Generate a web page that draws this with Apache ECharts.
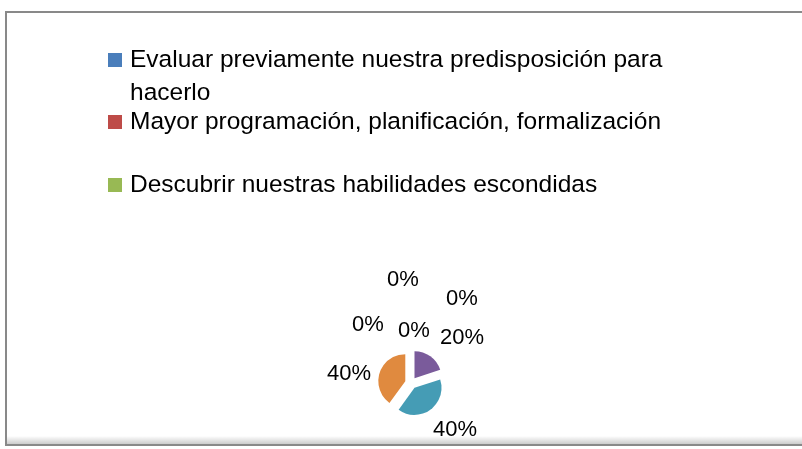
<!DOCTYPE html>
<html>
<head>
<meta charset="utf-8">
<script src="https://cdn.jsdelivr.net/npm/echarts@6/dist/echarts.min.js"></script>
<style>
  html, body { margin: 0; padding: 0; background: #fff; }
  #chart { width: 802px; height: 449px; }
</style>
</head>
<body>
<div id="chart"></div>
<script>
// categories of the pie (only the first three are listed in the legend)
var categories = [
  'Evaluar previamente nuestra predisposición para hacerlo',
  'Mayor programación, planificación, formalización',
  'Descubrir nuestras habilidades escondidas',
  'Categoría 4',
  'Categoría 5',
  'Categoría 6',
  'Categoría 7'
];
// share of answers, percent
var values = [0, 0, 0, 20, 40, 40, 0];
var legendNames = categories.slice(0, 3);

var colors = ['#4a7ebb', '#be4b48', '#98b954', '#7a5b9b', '#459cb5', '#e08a3f', '#2c4d75'];

var myChart = echarts.init(document.getElementById('chart'));

var pieData = [];
for (var i = 0; i < categories.length; i++) {
  pieData.push({ name: categories[i], value: values[i], selected: true });
}

var font = '"Liberation Sans", Arial, sans-serif';
var explode = 6;

function legendAt(name, top) {
  return {
    data: [name],
    orient: 'vertical',
    left: 108,
    top: top,
    padding: 0,
    icon: 'rect',
    itemWidth: 14,
    itemHeight: 14,
    selectedMode: false,
    formatter: function (n) {
      if (n === categories[0]) {
        // blank first line keeps the icon beside the first text line
        return '\n{t|Evaluar previamente nuestra predisposición para}\n{t|hacerlo}';
      }
      return '{t|' + n + '}';
    },
    textStyle: {
      fontFamily: font,
      fontSize: 24.5,
      lineHeight: 33,
      color: '#000',
      rich: {
        t: { fontFamily: font, fontSize: 24.5, lineHeight: 33, color: '#000', padding: [0, 0, 0, 3] }
      }
    }
  };
}

// where the data labels sit (text centres), by data index, Excel style
var labelSpots = [[403, 278], [462, 297], [368, 323], [462, 336], [455, 428], [349, 372], [414, 329]];

// mid angle of a slice, clockwise from 12 o'clock
function midAngle(idx) {
  var total = 0, before = 0;
  for (var k = 0; k < values.length; k++) {
    total += values[k];
    if (k < idx) before += values[k];
  }
  return (before + values[idx] / 2) / total * Math.PI * 2;
}

var option = {
  backgroundColor: '#fff',
  animation: false,
  color: colors,
  graphic: [{
    type: 'rect',
    z: -11,
    shape: { x: 7, y: 436, width: 800, height: 8 },
    style: {
      fill: new echarts.graphic.LinearGradient(0, 0, 0, 1, [
        { offset: 0, color: 'rgba(0,0,0,0)' },
        { offset: 1, color: 'rgba(0,0,0,0.2)' }
      ])
    }
  }, {
    type: 'rect',
    z: -10,
    shape: { x: 6, y: 12, width: 800, height: 433 },
    style: { fill: 'none', stroke: '#898989', lineWidth: 2 }
  }],
  legend: [
    legendAt(legendNames[0], 10.5),
    legendAt(legendNames[1], 105.5),
    legendAt(legendNames[2], 168.5)
  ],
  series: [{
    type: 'pie',
    center: [411, 383],
    radius: 27,
    startAngle: 90,
    clockwise: true,
    selectedMode: 'multiple',
    selectedOffset: explode,
    avoidLabelOverlap: false,
    label: {
      show: true,
      position: 'outside',
      formatter: '{d}%',
      fontFamily: font,
      fontSize: 22,
      color: '#000'
    },
    labelLine: { show: false },
    labelLayout: function (p) {
      // labels follow the exploded slice, so take that shift back out
      var s = labelSpots[p.dataIndex];
      var r = p.labelRect;
      var a = midAngle(p.dataIndex);
      return {
        dx: s[0] - (r.x + r.width / 2) - explode * Math.sin(a),
        dy: s[1] - (r.y + r.height / 2) + explode * Math.cos(a) + 1.5
      };
    },
    emphasis: { disabled: true },
    data: pieData
  }]
};

myChart.setOption(option);
</script>
</body>
</html>
